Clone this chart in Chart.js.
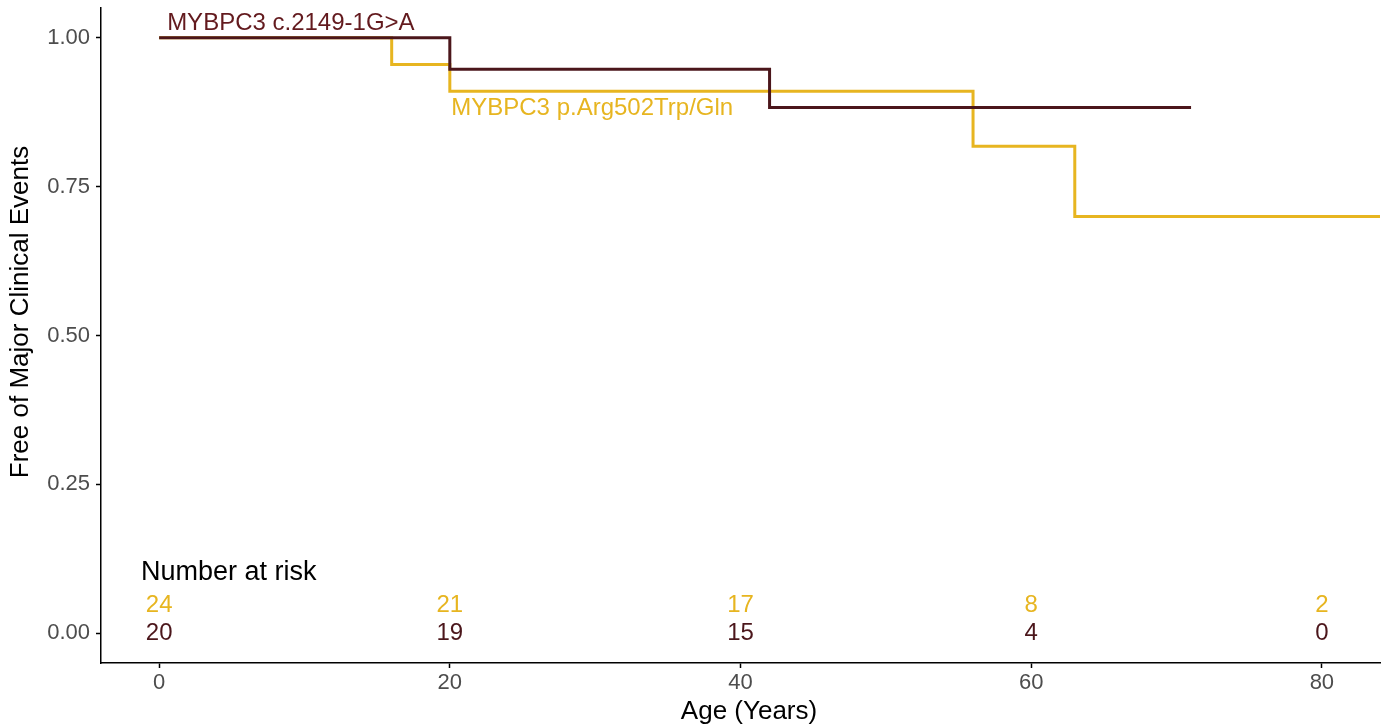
<!DOCTYPE html>
<html>
<head>
<meta charset="utf-8">
<script src="https://cdn.jsdelivr.net/npm/chart.js@4.4.0/dist/chart.umd.min.js"></script>
<style>
  body { margin: 0; background: #fff; }
  #wrap { width: 1391px; height: 727px; }
</style>
</head>
<body>
<div id="wrap"><canvas id="km"></canvas></div>
<script>
// survival steps (age, fraction free of events)
const darkAges = [0, 20, 42, 71];
const darkSurv = [1.0, 0.947, 0.883, 0.883];
const yellowAges = [0, 16, 20, 56, 63, 84];
const yellowSurv = [1.0, 0.955, 0.91, 0.818, 0.70, 0.70];

// number at risk table
const riskAges = [0, 20, 40, 60, 80];
const riskYellow = [24, 21, 17, 8, 2];
const riskDark = [20, 19, 15, 4, 0];

const yTicks = [0, 0.25, 0.5, 0.75, 1.0];
const xTicks = [0, 20, 40, 60, 80];

const darkCol = '#4b161b';
const darkText = '#631a1e';
const yellowCol = '#e7b520';
const FONT = '"Liberation Sans", Arial, sans-serif';

function toPts(xs, ys) {
  return xs.map((x, i) => ({ x: x, y: ys[i] }));
}

// texts drawn inside the plot + axis titles
const textPlugin = {
  id: 'kmText',
  afterDraw(chart) {
    const ctx = chart.ctx;
    const xs = chart.scales.x, ys = chart.scales.y;
    ctx.save();
    ctx.textBaseline = 'middle';

    ctx.font = '24px ' + FONT;
    ctx.textAlign = 'left';
    ctx.fillStyle = darkText;
    ctx.fillText('MYBPC3 c.2149-1G>A', xs.getPixelForValue(0.55), ys.getPixelForValue(1.025));
    ctx.fillStyle = yellowCol;
    ctx.fillText('MYBPC3 p.Arg502Trp/Gln', xs.getPixelForValue(20.1), ys.getPixelForValue(0.882));

    ctx.font = '27px ' + FONT;
    ctx.fillStyle = '#000';
    ctx.fillText('Number at risk', xs.getPixelForValue(-1.25), ys.getPixelForValue(0.102));

    ctx.font = '24px ' + FONT;
    ctx.textAlign = 'center';
    riskAges.forEach((a, i) => {
      ctx.fillStyle = yellowCol;
      ctx.fillText(String(riskYellow[i]), xs.getPixelForValue(a), ys.getPixelForValue(0.047));
      ctx.fillStyle = darkCol;
      ctx.fillText(String(riskDark[i]), xs.getPixelForValue(a), ys.getPixelForValue(-0.001));
    });

    // axis titles
    ctx.font = '26px ' + FONT;
    ctx.fillStyle = '#000';
    ctx.fillText('Age (Years)', 749, 712);
    ctx.translate(21, 312);
    ctx.rotate(-Math.PI / 2);
    ctx.fillText('Free of Major Clinical Events', 0, 0);
    ctx.restore();
  }
};

new Chart(document.getElementById('km'), {
  type: 'line',
  data: {
    datasets: [
      {
        label: 'MYBPC3 c.2149-1G>A',
        data: toPts(darkAges, darkSurv),
        borderColor: darkCol,
        borderWidth: 3,
        stepped: 'before',
        pointRadius: 0,
        fill: false
      },
      {
        label: 'MYBPC3 p.Arg502Trp/Gln',
        data: toPts(yellowAges, yellowSurv),
        borderColor: yellowCol,
        borderWidth: 3,
        stepped: 'before',
        pointRadius: 0,
        fill: false
      }
    ]
  },
  options: {
    responsive: true,
    maintainAspectRatio: false,
    animation: false,
    layout: { padding: { top: 8, right: 11, left: 0, bottom: 0 } },
    plugins: { legend: { display: false }, tooltip: { enabled: false } },
    scales: {
      x: {
        type: 'linear',
        min: -4,
        max: 84,
        afterBuildTicks: s => { s.ticks = xTicks.map(v => ({ value: v })); },
        afterFit: s => { s.height = 64; s.paddingLeft = 0; s.paddingRight = 0; },
        grid: { drawOnChartArea: false, drawTicks: true, tickLength: 5, tickColor: '#000', tickWidth: 1.5 },
        border: { display: true, color: '#000', width: 1.5 },
        ticks: { color: '#4d4d4d', font: { size: 22, family: FONT }, padding: 2 },
        title: { display: false }
      },
      y: {
        type: 'linear',
        min: -0.05,
        max: 1.05,
        afterBuildTicks: s => { s.ticks = yTicks.map(v => ({ value: v })); },
        afterFit: s => { s.width = 101; s.paddingTop = 0; s.paddingBottom = 0; },
        grid: { drawOnChartArea: false, drawTicks: true, tickLength: 5, tickColor: '#000', tickWidth: 1.5 },
        border: { display: true, color: '#000', width: 1.5 },
        ticks: { color: '#4d4d4d', font: { size: 22, family: FONT }, padding: 6, callback: v => v.toFixed(2) },
        title: { display: false }
      }
    }
  },
  plugins: [textPlugin]
});
</script>
</body>
</html>
